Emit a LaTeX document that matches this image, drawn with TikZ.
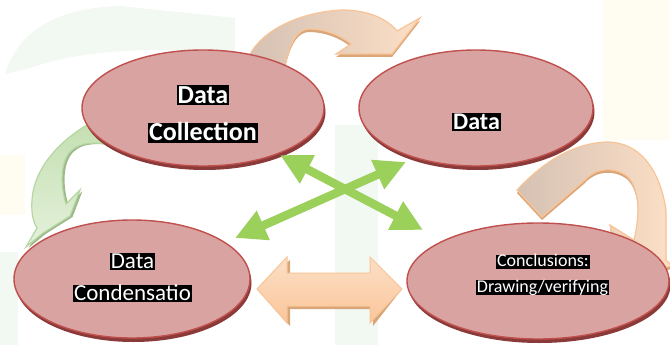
\documentclass[tikz,border=0pt]{standalone}
\usepackage{fontspec}
\setmainfont{Carlito}
\usetikzlibrary{shapes.geometric,arrows.meta,shadows}
\definecolor{ellfill}{HTML}{D9A3A1}
\definecolor{elldraw}{HTML}{C0504D}
\definecolor{ellshadow}{HTML}{8A3A38}
\definecolor{xgreen}{HTML}{9BD05B}
\definecolor{peachlight}{HTML}{FCDFC6}
\definecolor{peachmid}{HTML}{FAC69A}
\definecolor{peachdark}{HTML}{D9A679}
\definecolor{peachedge}{HTML}{F8C497}
\definecolor{tanc}{HTML}{D5C1B3}
\definecolor{gfillA}{HTML}{C4DFB1}
\definecolor{gfillB}{HTML}{E4F1DB}
\definecolor{gedge}{HTML}{B6D7A1}
\definecolor{gshadow}{HTML}{9DB98C}
\definecolor{bgg}{HTML}{F2F8F2}
\definecolor{bgc}{HTML}{FFFCF2}
\begin{document}
\begin{tikzpicture}[x=1pt,y=-1pt,
  ell/.style={ellipse, draw=elldraw, line width=1.4pt, fill=ellfill, inner sep=0pt,
    drop shadow={shadow xshift=1.5pt, shadow yshift=-4pt, fill=ellshadow, opacity=1}},
  lbl/.style={fill=black, text=white, inner ysep=0pt, inner xsep=1pt},
  xarrow/.style={draw=xgreen, line width=8.5pt,
    {Triangle[length=31pt,width=30pt]}-{Triangle[length=31pt,width=30pt]}},
  blockarrow/.style={draw=peachedge, line width=1pt, top color=peachlight, bottom color=peachmid}]
\useasboundingbox (0,0) rectangle (670,345);
\fill[white] (0,0) rectangle (670,345);

% ---- faint background shapes
\fill[bgg] (5,74) .. controls (18,32) and (55,8) .. (120,6) -- (235,18) -- (235,55)
  .. controls (160,45) and (80,50) .. (30,68) -- cycle;
\fill[bgg] (335,125) rectangle (378,345);
\fill[bgg] (0,252) rectangle (18,345);
\fill[bgc] (603,0) rectangle (670,140);
\fill[bgc] (0,155) rectangle (25,215);

% ---- curved arrow top (Data Collection -> Data)
\def\toparrowpath{(252,70) -- (249,56) .. controls (262,30) and (300,12) .. (342,10)
  .. controls (370,10) and (388,20) .. (397,31) -- (420,18) -- (392,54) -- (336,54)
  -- (351,44) .. controls (340,35) and (325,29) .. (308,29)
  .. controls (298,30) and (290,40) .. (284,70) -- cycle}
\fill[peachdark, yshift=-3pt] \toparrowpath;
\draw[draw=peachedge, line width=1.2pt, left color=tanc, right color=peachlight] \toparrowpath;

% ---- curved arrow right (Data -> Conclusions)
\def\rtarrowpath{(517,190) .. controls (545,160) and (575,143) .. (607,142)
  .. controls (640,142) and (660,170) .. (666,210) -- (666,260) -- (672,266)
  -- (620,277) -- (610,225) -- (634,240) .. controls (640,215) and (640,190) .. (628,177)
  .. controls (615,166) and (595,168) .. (585,180) -- (542,217) -- cycle}
\fill[peachdark, yshift=-3pt] \rtarrowpath;
\draw[draw=peachedge, line width=1.2pt, left color=tanc, right color=peachlight] \rtarrowpath;

% ---- curved arrow left (Data Collection -> Data Condensatio)
\def\lfarrowpath{(92,122) .. controls (60,140) and (38,165) .. (33,192)
  .. controls (30,210) and (33,222) .. (37,228) -- (26,247) -- (43,233) -- (70,216)
  -- (80,190) -- (66,204) .. controls (60,185) and (60,160) .. (72,150)
  .. controls (80,143) and (92,142) .. (108,144) -- cycle}
\fill[gshadow, xshift=2.5pt, yshift=-1pt] \lfarrowpath;
\draw[draw=gedge, line width=1.2pt, top color=gfillA, bottom color=gfillB] \lfarrowpath;

% ---- ellipses
\node[ell, minimum width=242pt, minimum height=116pt] (dc) at (203,108) {};
\node[ell, minimum width=234pt, minimum height=116pt] (da) at (476,108) {};
\node[ell, minimum width=236pt, minimum height=118pt] (dd) at (132,279) {};
\node[ell, minimum width=262pt, minimum height=116pt] (cd) at (538,281) {};

% ---- labels
\node[lbl, font=\bfseries\fontsize{26}{26}\selectfont, text height=17.5pt, text depth=2.5pt] (dc1) at (203,95.5) {Data};
\node[lbl, font=\bfseries\fontsize{26}{26}\selectfont, text height=17.5pt, text depth=2.5pt] (dc2) at (203,133) {Collection};
\node[lbl, font=\bfseries\fontsize{24}{24}\selectfont, text height=16pt, text depth=2pt] (da1) at (476.5,122) {Data};
\node[lbl, font=\fontsize{23}{23}\selectfont, text height=15pt, text depth=2pt] (dd1) at (132.5,261.5) {Data};
\node[lbl, font=\fontsize{23}{23}\selectfont, text height=15pt, text depth=2pt] (dd2) at (132.5,293.5) {Condensatio};
\node[lbl, font=\fontsize{18}{18}\selectfont, text height=12pt, text depth=2.5pt] (cd1) at (543,262) {Conclusions:};
\node[lbl, font=\fontsize{18}{18}\selectfont, text height=12pt, text depth=2.5pt] (cd2) at (542.5,287.5) {Drawing/verifying};

% ---- green crossing double arrows
\coordinate (x1a) at (280,155);
\coordinate (x1b) at (423,230);
\coordinate (x2a) at (406,162);
\coordinate (x2b) at (235,238);
\draw[xarrow] (x1a) -- (x1b);
\draw[xarrow] (x2a) -- (x2b);

% ---- orange horizontal double block arrow
\coordinate (ba) at (257,289);
\coordinate (bb) at (402,289);
\def\blockpath{(ba) -- (287,257) -- (287,273) -- (370,273) -- (370,257) -- (bb)
  -- (370,323) -- (370,306) -- (287,306) -- (287,323) -- cycle}
\fill[peachdark, xshift=3pt, yshift=-3pt] \blockpath;
\draw[blockarrow] \blockpath;
\end{tikzpicture}
\end{document}
